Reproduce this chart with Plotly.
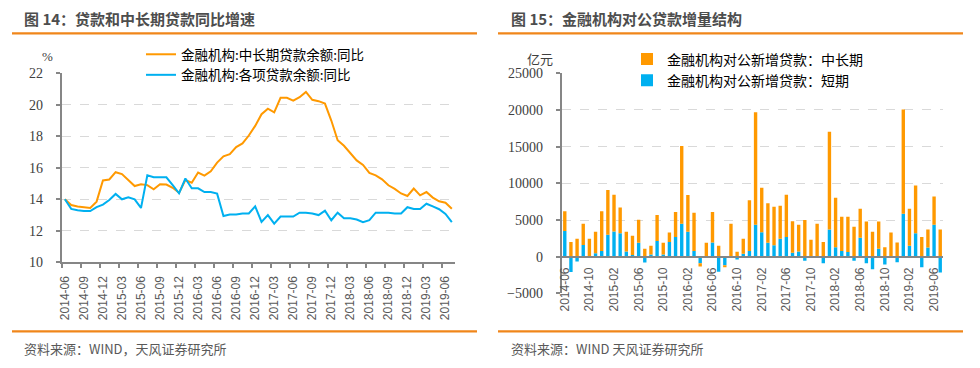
import plotly.graph_objects as go

# ---------------- data ----------------
months = [
    "2014-06", "2014-07", "2014-08", "2014-09", "2014-10", "2014-11", "2014-12",
    "2015-01", "2015-02", "2015-03", "2015-04", "2015-05", "2015-06", "2015-07",
    "2015-08", "2015-09", "2015-10", "2015-11", "2015-12", "2016-01", "2016-02",
    "2016-03", "2016-04", "2016-05", "2016-06", "2016-07", "2016-08", "2016-09",
    "2016-10", "2016-11", "2016-12", "2017-01", "2017-02", "2017-03", "2017-04",
    "2017-05", "2017-06", "2017-07", "2017-08", "2017-09", "2017-10", "2017-11",
    "2017-12", "2018-01", "2018-02", "2018-03", "2018-04", "2018-05", "2018-06",
    "2018-07", "2018-08", "2018-09", "2018-10", "2018-11", "2018-12", "2019-01",
    "2019-02", "2019-03", "2019-04", "2019-05", "2019-06", "2019-07",
]

# 金融机构:中长期贷款余额:同比 (%)
mlt_loan_yoy = [
    14.0, 13.64, 13.54, 13.48, 13.45, 13.85, 15.2, 15.26, 15.72, 15.6,
    15.2, 14.84, 14.96, 14.9, 14.63, 14.96, 14.94, 14.73, 14.42, 15.22,
    15.05, 15.7, 15.5, 15.78, 16.33, 16.73, 16.87, 17.32, 17.55, 18.05,
    18.66, 19.4, 19.75, 19.52, 20.44, 20.44, 20.27, 20.48, 20.82, 20.32,
    20.23, 20.08, 19.0, 17.75, 17.4, 16.93, 16.47, 16.18, 15.68, 15.52,
    15.27, 14.89, 14.66, 14.37, 14.21, 14.68, 14.25, 14.46, 14.11, 13.87,
    13.78, 13.4,
]

# 金融机构:各项贷款余额:同比 (%)
all_loan_yoy = [
    14.0, 13.39, 13.3, 13.25, 13.25, 13.5, 13.66, 13.96, 14.34, 14.0,
    14.13, 14.0, 13.45, 15.53, 15.4, 15.4, 15.4, 14.9, 14.38, 15.32,
    14.7, 14.7, 14.46, 14.46, 14.36, 12.94, 13.04, 13.04, 13.1, 13.1,
    13.55, 12.57, 13.0, 12.46, 12.9, 12.9, 12.9, 13.15, 13.15, 13.1,
    13.0, 13.28, 12.67, 13.15, 12.8, 12.8, 12.72, 12.55, 12.67, 13.15,
    13.15, 13.15, 13.1, 13.1, 13.5, 13.39, 13.39, 13.72, 13.55, 13.37,
    13.07, 12.55,
]

# 金融机构对公新增贷款：短期 (亿元)
corp_short_new = [
    3500, -2100, -650, 1600, 0, 480, 780, 3000, 3450, 3200,
    700, 230, 1900, -800, 300, 2150, 300, 2000, 2700, 4500,
    3400, 780, -900, 0, 1950, -2050, -1180, 0, -380, 400,
    780, 4350, 3350, 1900, 1550, 2450, 2700, 550, 700, -550,
    0, 0, -900, 3700, 1300, 770, 640, -550, 2600, -900,
    -1700, 1100, -1050, 0, -770, 5860, 1500, 3200, -1450, 1270,
    4350, -2150,
]

# 金融机构对公新增贷款：中长期 (亿元)
corp_mlt_new = [
    2700, 2000, 2450, 2900, 2450, 2920, 5420, 6100, 5000, 3500,
    2700, 2620, 3150, 1100, 1200, 3550, 1600, 1300, 3400, 10600,
    5000, 5220, -450, 1900, 4150, 1500, -150, 4500, 680, 2050,
    6920, 15350, 6050, 5400, 5250, 4500, 5750, 4300, 3650, 5000,
    2300, 4500, 2000, 13350, 6750, 4680, 4810, 4100, 3950, 4800,
    3400, 3700, 1300, 3300, 1950, 14190, 5050, 6500, 2700, 2430,
    3850, 3700,
]

left_ticks = months[0::3]
right_ticks = months[0::4]

# ---------------- styling ----------------
W, H = 980, 368
ORANGE = "#FF9900"
BLUE = "#00B0F0"
RULE = "#F0861A"
AXIS = "#868686"
GRID = "#D9D9D9"
TITLE_C = "#4D4D4D"
CJK = "Noto Sans CJK SC"
SERIF = "Liberation Serif"
SANS = "Liberation Sans"


def px(x):
    return x / W


def py(y):
    return 1 - y / H


x_idx = list(range(len(months)))
idx_of = {m: i for i, m in enumerate(months)}

fig = go.Figure()

# left: line chart
fig.add_trace(go.Scatter(
    x=x_idx, y=mlt_loan_yoy, mode="lines", name="金融机构:中长期贷款余额:同比",
    line=dict(color=ORANGE, width=2), xaxis="x", yaxis="y", legend="legend",
))
fig.add_trace(go.Scatter(
    x=x_idx, y=all_loan_yoy, mode="lines", name="金融机构:各项贷款余额:同比",
    line=dict(color=BLUE, width=2), xaxis="x", yaxis="y", legend="legend",
))

# right: stacked bars
fig.add_trace(go.Bar(
    x=x_idx, y=corp_short_new, name="金融机构对公新增贷款：短期",
    marker=dict(color=BLUE, line=dict(width=0)), width=0.55,
    xaxis="x2", yaxis="y2", legend="legend2", legendgroup="s",
))
fig.add_trace(go.Bar(
    x=x_idx, y=corp_mlt_new, name="金融机构对公新增贷款：中长期",
    marker=dict(color=ORANGE, line=dict(width=0)), width=0.55,
    xaxis="x2", yaxis="y2", legend="legend2", legendgroup="m",
))

# axis domains in pixel terms
L_X0, L_X1 = 61.7, 455.0
L_Y_TOP, L_Y_BOT = 73.3, 262.3
R_X0, R_X1 = 561.7, 943.3
R_Y_TOP, R_Y_BOT = 73.3, 293.4
R_ZERO = 256.7

tick_font = dict(family=SERIF, size=14, color="#404040")
date_font = dict(family=SANS, size=12, color="#595959")

fig.update_layout(
    width=W, height=H,
    margin=dict(l=0, r=0, t=0, b=0, autoexpand=False),
    paper_bgcolor="white", plot_bgcolor="white",
    barmode="relative",
    showlegend=True,
    xaxis=dict(
        domain=[px(L_X0), px(L_X1)], anchor="y",
        range=[-0.5, len(months) - 0.5],
        tickmode="array", tickvals=[idx_of[m] for m in left_ticks], ticktext=left_ticks,
        tickangle=-90, ticks="", tickfont=date_font, ticklabelstandoff=7,
        showline=True, linecolor=AXIS, linewidth=2, showgrid=False, zeroline=False,
        automargin=False,
        minor=dict(tickmode="array", tickvals=[idx_of[m] - 0.5 for m in left_ticks],
                   ticks="outside", ticklen=4, tickcolor=AXIS, tickwidth=1.5, showgrid=False),
    ),
    yaxis=dict(
        domain=[py(L_Y_BOT), py(L_Y_TOP)], anchor="x",
        range=[10, 22], dtick=2, tick0=10,
        ticks="outside", ticklen=4, tickcolor=AXIS, tickwidth=1.5,
        tickfont=tick_font, ticklabelstandoff=10, automargin=False,
        showline=True, linecolor=AXIS, linewidth=2,
        showgrid=True, gridcolor=GRID, gridwidth=1, griddash="dash", zeroline=False,
    ),
    xaxis2=dict(
        domain=[px(R_X0), px(R_X1)], anchor="free",
        position=py(R_ZERO),
        range=[-0.5, len(months) - 0.5],
        tickmode="array", tickvals=[idx_of[m] for m in right_ticks], ticktext=right_ticks,
        tickangle=-90, ticks="", tickfont=date_font, ticklabelstandoff=5,
        showline=True, linecolor=AXIS, linewidth=2, showgrid=False, zeroline=False,
        automargin=False,
    ),
    yaxis2=dict(
        domain=[py(R_Y_BOT), py(R_Y_TOP)], anchor="x2",
        range=[-5000, 25000], dtick=5000, tick0=0, tickformat="d",
        ticks="outside", ticklen=4, tickcolor=AXIS, tickwidth=1.5,
        tickfont=tick_font, ticklabelstandoff=10, automargin=False,
        showline=True, linecolor=AXIS, linewidth=2,
        showgrid=True, gridcolor=GRID, gridwidth=1, griddash="dash", zeroline=False,
    ),
    legend=dict(
        x=px(141), y=py(39), xanchor="left", yanchor="top",
        bgcolor="rgba(0,0,0,0)", font=dict(family=CJK, size=13.5, color="#000000"),
        tracegroupgap=0, itemwidth=30,
    ),
    legend2=dict(
        x=px(627), y=py(43.5), xanchor="left", yanchor="top",
        bgcolor="rgba(0,0,0,0)", font=dict(family=CJK, size=14, color="#000000"),
        traceorder="reversed", tracegroupgap=9.5,
    ),
)

shapes = []
annotations = []

# title rules and source rules
for x0, x1 in [(12, 477), (498, 963)]:
    shapes.append(dict(type="line", xref="paper", yref="paper",
                       x0=px(x0), x1=px(x1), y0=py(33.3), y1=py(33.3),
                       line=dict(color=RULE, width=2.2)))
    shapes.append(dict(type="line", xref="paper", yref="paper",
                       x0=px(x0), x1=px(x1), y0=py(331.3), y1=py(331.3),
                       line=dict(color=RULE, width=2.2)))

annotations.append(dict(text="<b>图 14：贷款和中长期贷款同比增速</b>", xref="paper", yref="paper",
                        x=px(22), y=py(18), xanchor="left", yanchor="middle", showarrow=False,
                        font=dict(family=CJK, size=15, color=TITLE_C)))
annotations.append(dict(text="<b>图 15：金融机构对公贷款增量结构</b>", xref="paper", yref="paper",
                        x=px(509), y=py(18), xanchor="left", yanchor="middle", showarrow=False,
                        font=dict(family=CJK, size=15, color=TITLE_C)))
annotations.append(dict(text="资料来源：WIND，天风证券研究所", xref="paper", yref="paper",
                        x=px(22), y=py(348), xanchor="left", yanchor="middle", showarrow=False,
                        font=dict(family=CJK, size=13, color="#595959")))
annotations.append(dict(text="资料来源：WIND 天风证券研究所", xref="paper", yref="paper",
                        x=px(509), y=py(348), xanchor="left", yanchor="middle", showarrow=False,
                        font=dict(family=CJK, size=13, color="#595959")))
annotations.append(dict(text="%", xref="paper", yref="paper",
                        x=px(47), y=py(57), xanchor="center", yanchor="middle", showarrow=False,
                        font=dict(family=SERIF, size=13, color="#404040")))
annotations.append(dict(text="亿元", xref="paper", yref="paper",
                        x=px(540), y=py(58), xanchor="center", yanchor="middle", showarrow=False,
                        font=dict(family=CJK, size=13, color="#404040")))

fig.update_layout(shapes=shapes, annotations=annotations)

fig.write_html(
    "out.html",
    config={"displayModeBar": False, "displaylogo": False},
    post_script="document.body.style.margin='0px';",
)
